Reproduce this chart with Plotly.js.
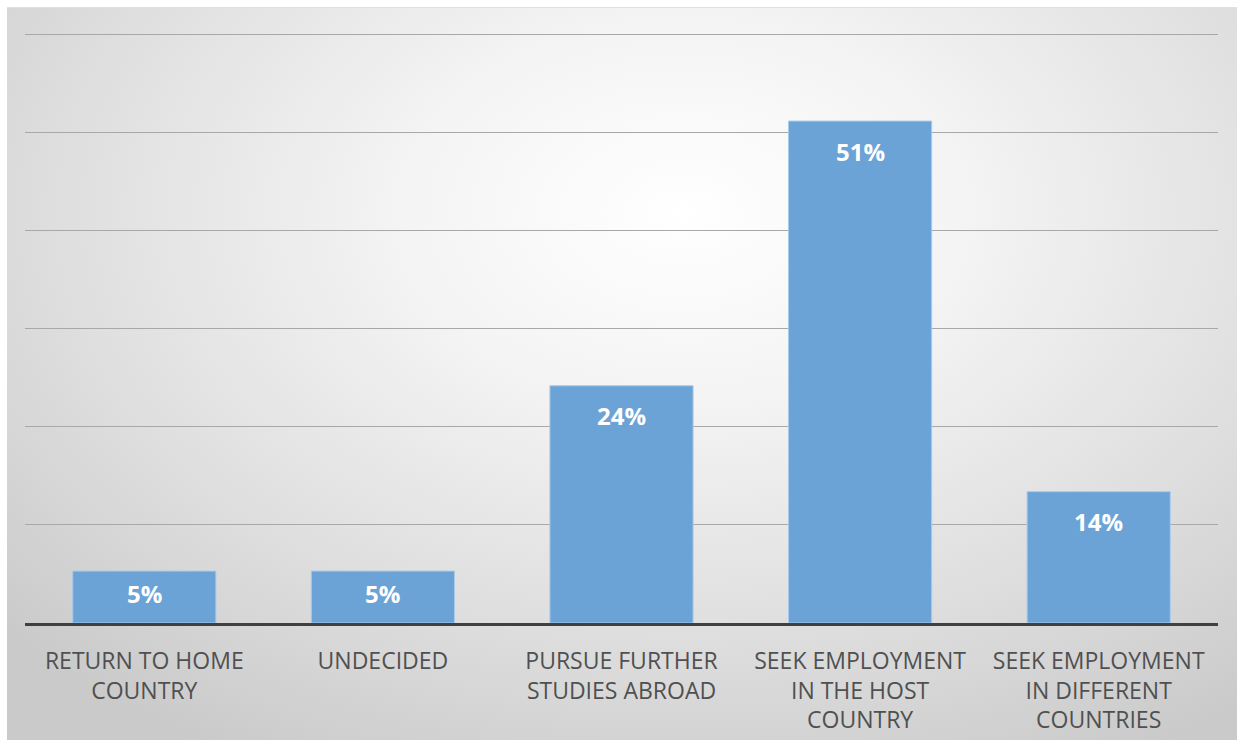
<!DOCTYPE html>
<html>
<head>
<meta charset="utf-8">
<script src="https://cdn.plot.ly/plotly-3.0.1.min.js"></script>
<style>
  html, body { margin: 0; padding: 0; background: #ffffff; width: 1244px; height: 747px; overflow: hidden; }
  #frame {
    position: absolute; left: 7px; top: 7px; width: 1230px; height: 733px;
    background: radial-gradient(ellipse 75% 85% at 55% 28%, #ffffff 0%, #f4f4f4 30%, #e0e0e0 65%, #cacaca 100%);
    border-top: 1px solid #e0e0e0;
    box-sizing: border-box;
  }
  #chart { position: absolute; left: 7px; top: 7px; width: 1230px; height: 733px; }
</style>
</head>
<body>
<div id="frame"></div>
<div id="chart"></div>
<script>
const categories = [
  "RETURN TO HOME<br>COUNTRY",
  "UNDECIDED",
  "PURSUE FURTHER<br>STUDIES ABROAD",
  "SEEK EMPLOYMENT<br>IN THE HOST<br>COUNTRY",
  "SEEK EMPLOYMENT<br>IN DIFFERENT<br>COUNTRIES"
];
const values = [5.3, 5.3, 24.2, 51.2, 13.4];
const valueLabels = ["5%", "5%", "24%", "51%", "14%"];
const gridTicks = [10, 20, 30, 40, 50, 60];

const trace = {
  type: "bar",
  x: categories,
  y: values,
  marker: { color: "#6ba3d6", line: { color: "#a9cbea", width: 1 } },
  hoverinfo: "skip"
};

const annotations = categories.map((c, i) => ({
  x: c, y: values[i], xref: "x", yref: "y",
  text: "<b>" + valueLabels[i] + "</b>",
  showarrow: false, yanchor: "middle", yshift: values[i] < 10 ? -22 : -30,
  font: { family: "Open Sans, sans-serif", size: 24, color: "#ffffff" }
}));

const layout = {
  width: 1230, height: 733,
  margin: { l: 18, r: 19, t: 18, b: 117 },
  paper_bgcolor: "rgba(0,0,0,0)",
  plot_bgcolor: "rgba(0,0,0,0)",
  bargap: 0.4,
  showlegend: false,
  xaxis: {
    type: "category",
    showline: true, linecolor: "#404040", linewidth: 3,
    ticks: "", showgrid: false,
    tickfont: { family: "Open Sans, sans-serif", size: 23, color: "#505050" },
    ticklabelstandoff: 15
  },
  yaxis: {
    range: [0, 61], tickmode: "array", tickvals: gridTicks,
    showticklabels: false, ticks: "",
    showgrid: true, gridcolor: "#a8a8a8", gridwidth: 1,
    zeroline: false, showline: false
  },
  annotations: annotations
};

Plotly.newPlot("chart", [trace], layout, { displayModeBar: false, staticPlot: true });
</script>
</body>
</html>
